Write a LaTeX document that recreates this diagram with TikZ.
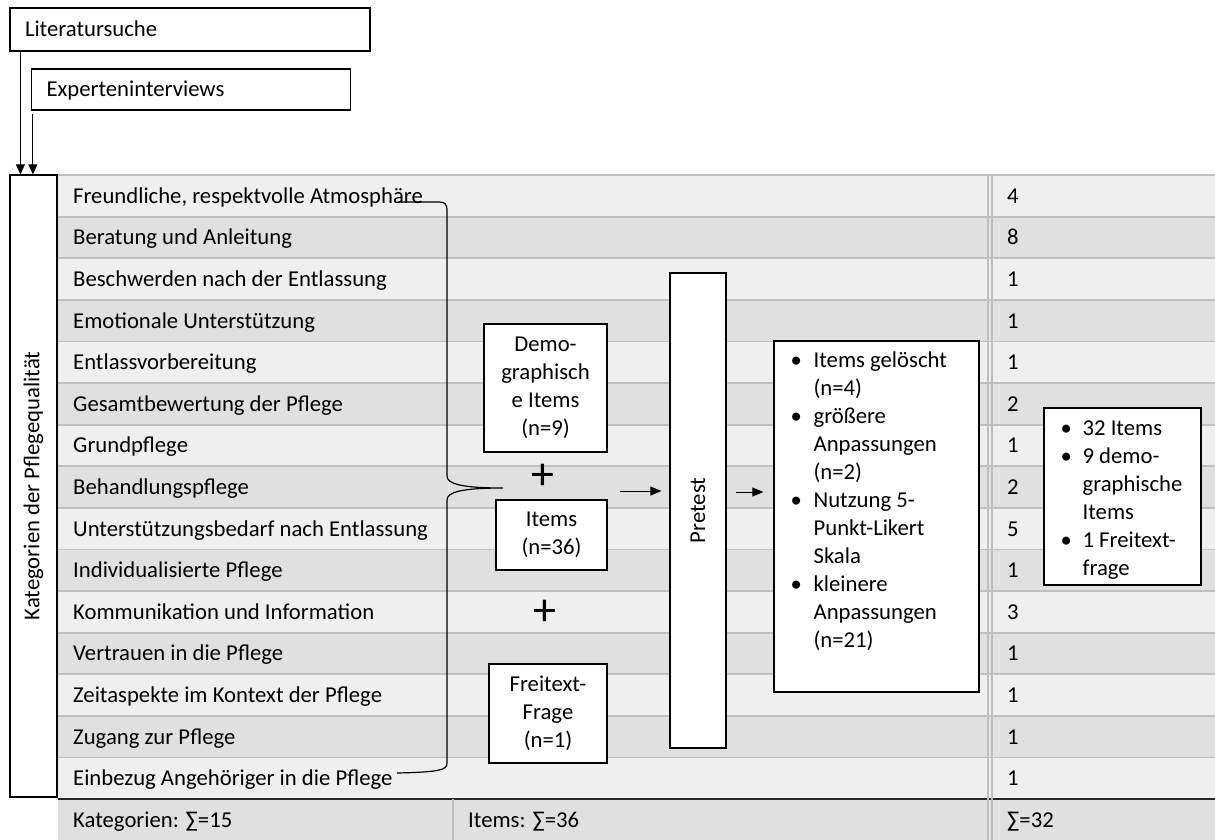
\documentclass[tikz,border=0pt]{standalone}
\usepackage{fontspec}
\setmainfont{Carlito}
\usetikzlibrary{arrows.meta,calc}
\definecolor{rowlight}{HTML}{EFEFEF}
\definecolor{rowdark}{HTML}{E0E0E0}
\definecolor{gridline}{HTML}{BFBFBF}
\definecolor{footline}{HTML}{262626}

\begin{document}
\begin{tikzpicture}[x=1pt,y=-1pt,
  font=\fontsize{22.7}{28}\selectfont,
  box/.style={draw=black, line width=1.2pt, fill=white, inner sep=0pt},
  cell/.style={anchor=base west, inner sep=0pt},
  topbox/.style={box, align=left, inner xsep=15pt, text height=15pt, text depth=0pt},
  plussign/.style={inner sep=0pt, font=\fontsize{46}{46}\selectfont},
  down/.style={-{Triangle[length=10pt,width=9pt]}, line width=0.9pt},
  flow/.style={-{Triangle[length=11pt,width=9pt]}, line width=0.9pt},
  bracepath/.style={line width=1.2pt},
]
\useasboundingbox (0,0) rectangle (1215,840);
\fill[white] (0,0) rectangle (1215,840);

% striped category rows with item counts
\foreach \i/\txt/\num in {
  1/{Freundliche, respektvolle Atmosphäre}/4,
  2/{Beratung und Anleitung}/8,
  3/{Beschwerden nach der Entlassung}/1,
  4/{Emotionale Unterstützung}/1,
  5/{Entlassvorbereitung}/1,
  6/{Gesamtbewertung der Pflege}/2,
  7/{Grundpflege}/1,
  8/{Behandlungspflege}/2,
  9/{Unterstützungsbedarf nach Entlassung}/5,
  10/{Individualisierte Pflege}/1,
  11/{Kommunikation und Information}/3,
  12/{Vertrauen in die Pflege}/1,
  13/{Zeitaspekte im Kontext der Pflege}/1,
  14/{Zugang zur Pflege}/1,
  15/{Einbezug Angehöriger in die Pflege}/1} {
  \pgfmathsetmacro\yt{175+41.6*(\i-1)}
  \pgfmathtruncatemacro\odd{mod(\i,2)}
  \ifnum\odd=1 \def\rc{rowlight}\else\def\rc{rowdark}\fi
  \fill[\rc] (58,\yt) rectangle (1215,\yt+41.6);
  \node[cell] (row\i) at (73,\yt+28.3) {\txt};
  \node[cell] (num\i) at (1007,\yt+28.3) {\num};
}
\foreach \k in {0,...,14}
  \draw[gridline, line width=1.8pt] (58,175+41.6*\k) -- (1215,175+41.6*\k);

% footer with sums
\fill[rowdark] (58,799) rectangle (1215,840);
\draw[footline, line width=2pt] (58,799) -- (1215,799);
\draw[gridline, line width=1.8pt] (453,799) -- (453,840);
\node[cell] (sumcat) at (73,827) {Kategorien: ∑=15};
\node[cell] (sumitems) at (468,827) {Items: ∑=36};
\node[cell] (sumfinal) at (1007,827) {∑=32};

% double rule before the final count column
\draw[gridline, line width=1.5pt] (988,175) -- (988,840);
\draw[gridline, line width=1.5pt] (992,175) -- (992,840);

% sources
\node[topbox, text width=330pt, minimum height=43pt] (lit) at (190,29.5) {Literatursuche};
\node[topbox, text width=289pt, minimum height=41pt] (exp) at (191,89.5) {Experteninterviews};

% category label (rotated: its east anchor is the top edge)
\node[box, rotate=90, minimum width=622pt, minimum height=47pt] (cat) at (33.5,486) {Kategorien der Pflegequalität};

\draw[down] ([xshift=11pt]lit.south west) -- ([xshift=11pt]lit.south west |- cat.east);
\draw[down] ([xshift=2pt,yshift=-3pt]exp.south west) -- ([xshift=2pt]exp.south west |- cat.east);

% brace collecting all categories
\coordinate (braceTop) at (398,202);
\coordinate (braceTip) at (503,488);
\coordinate (braceBot) at (397,773);
\draw[bracepath] (braceTop) -- (439,202) .. controls (445,202) and (447,204) .. (447,211)
  -- (447,476) .. controls (447,484) and (462,488) .. (braceTip)
  .. controls (462,488) and (447,492) .. (447,500)
  -- (447,763) .. controls (447,770) and (440,772) .. (braceBot);

% questionnaire parts
\node[box, minimum width=123pt, minimum height=128pt, align=center] (demo) at (545.5,388) {Demo-\\graphisch\\e Items\\(n=9)};
\node[plussign] (plus1) at (543,477) {+};
\node[box, minimum width=111pt, minimum height=70pt, align=center] (items) at (551.5,535) {Items\\(n=36)};
\node[plussign] (plus2) at (545,613) {+};
\node[box, minimum width=118pt, minimum height=99pt, align=center] (frei) at (548,713.5) {Freitext-\\Frage\\(n=1)};

% pretest (rotated: its north anchor is the left edge)
\node[box, rotate=90, minimum width=475pt, minimum height=56pt] (pre) at (698,510.5) {Pretest};
\coordinate (toPre) at (620,491);
\draw[flow, shorten >=8pt] (toPre) -- (toPre -| pre.north);

% changes after pretest
\node[box, minimum width=205pt, minimum height=351pt] (chg) at (876.5,516.5) {};
\node[anchor=north west, align=left, inner sep=0pt] (chgtext) at ([xshift=17pt,yshift=-11pt]chg.north west) {%
  \makebox[23pt][l]{•}Items gelöscht\\
  \hspace*{23pt}(n=4)\\
  \makebox[23pt][l]{•}größere\\
  \hspace*{23pt}Anpassungen\\
  \hspace*{23pt}(n=2)\\
  \makebox[23pt][l]{•}Nutzung 5-\\
  \hspace*{23pt}Punkt-Likert\\
  \hspace*{23pt}Skala\\
  \makebox[23pt][l]{•}kleinere\\
  \hspace*{23pt}Anpassungen\\
  \hspace*{23pt}(n=21)};
\coordinate (fromPre) at (736,492);
\draw[flow, shorten >=10pt] (fromPre) -- (fromPre -| chg.west);

% final questionnaire
\node[box, minimum width=157pt, minimum height=177pt] (final) at (1122.5,496.5) {};
\node[anchor=north west, align=left, inner sep=0pt] (finaltext) at ([xshift=17pt,yshift=-13pt]final.north west) {%
  \makebox[22pt][l]{•}32 Items\\
  \makebox[22pt][l]{•}9 demo-\\
  \hspace*{22pt}graphische\\
  \hspace*{22pt}Items\\
  \makebox[22pt][l]{•}1 Freitext-\\
  \hspace*{22pt}frage};
\end{tikzpicture}
\end{document}
